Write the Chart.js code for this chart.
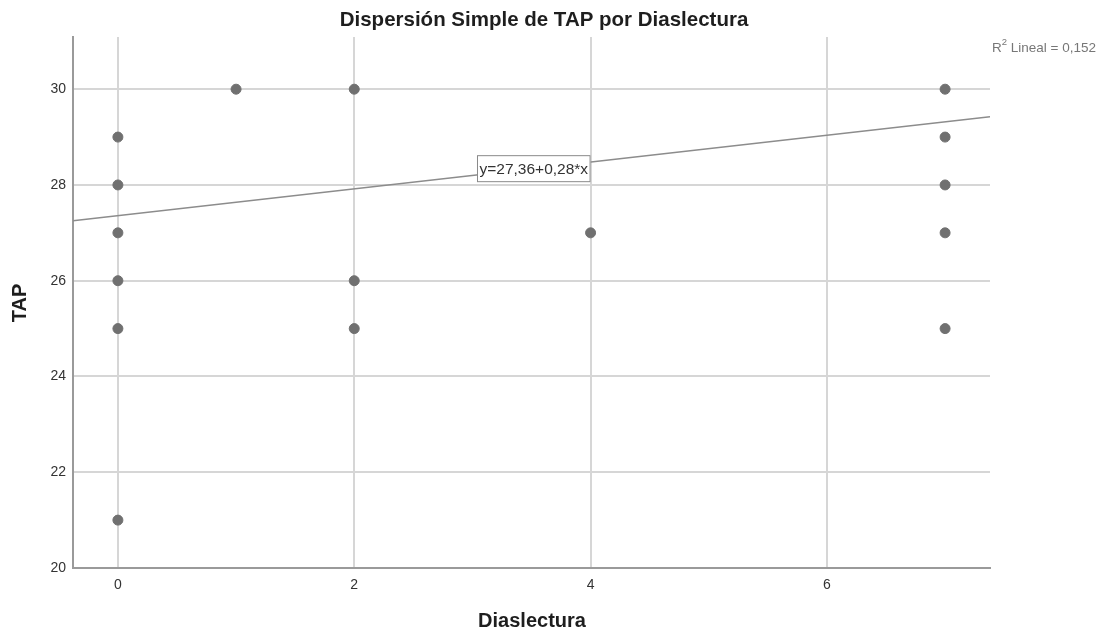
<!DOCTYPE html>
<html>
<head>
<meta charset="utf-8">
<script src="https://cdn.jsdelivr.net/npm/chart.js@4.4.1/dist/chart.umd.min.js"></script>
<style>
  html, body { margin: 0; padding: 0; background: #fff; }
  #wrap { width: 1104px; height: 631px; }
</style>
</head>
<body>
<div id="wrap"><canvas id="scatter"></canvas></div>
<script>
// data
var diaslectura = [0, 0, 0, 0, 0, 0, 1, 2, 2, 2, 4, 7, 7, 7, 7, 7];
var tap         = [29, 28, 27, 26, 25, 21, 30, 30, 26, 25, 27, 30, 29, 28, 27, 25];
var fitIntercept = [27.36]; // y=27,36+0,28*x
var fitSlope     = [0.28];
var fitLabel = 'y=27,36+0,28*x';
var xTicks = [0, 2, 4, 6];
var yTicks = [20, 22, 24, 26, 28, 30];

var xMin = -0.38, xMax = 7.38;
var yMin = 20, yMax = 31.09;

var points = diaslectura.map(function (x, i) { return { x: x, y: tap[i] }; });
var fitLine = [xMin, xMax].map(function (x) {
    return { x: x, y: fitIntercept[0] + fitSlope[0] * x };
});

var FONT = '"Liberation Sans", Arial, sans-serif';

// title, axis titles, r2 text and the equation box
var textPlugin = {
    id: 'spssText',
    afterDraw: function (chart) {
        var ctx = chart.ctx;
        var area = chart.chartArea;
        var xs = chart.scales.x, ys = chart.scales.y;
        ctx.save();
        ctx.fillStyle = '#1e1e1e';
        ctx.textAlign = 'center';
        ctx.textBaseline = 'middle';
        ctx.font = 'bold 20.5px ' + FONT;
        ctx.fillText('Dispersión Simple de TAP por Diaslectura', 544, 20);

        ctx.font = 'bold 20px ' + FONT;
        ctx.fillText('Diaslectura', 532, 621);

        ctx.save();
        ctx.translate(20, 303);
        ctx.rotate(-Math.PI / 2);
        ctx.fillText('TAP', 0, 0);
        ctx.restore();

        // R2 note top right
        ctx.fillStyle = '#777';
        ctx.textAlign = 'left';
        ctx.font = '13.5px ' + FONT;
        ctx.fillText('R', 992, 48);
        var rw = ctx.measureText('R').width;
        ctx.font = '9.5px ' + FONT;
        ctx.fillText('2', 992 + rw, 42);
        var sw = ctx.measureText('2').width;
        ctx.font = '13.5px ' + FONT;
        ctx.fillText(' Lineal = 0,152', 992 + rw + sw, 48);

        // equation box, right edge on x = 4
        ctx.font = '15.5px ' + FONT;
        var tw = ctx.measureText(fitLabel).width;
        var bx2 = xs.getPixelForValue(4);
        var bw = tw + 5;
        var bh = 27;
        var cy = ys.getPixelForValue(28.34);
        ctx.fillStyle = '#fff';
        ctx.fillRect(bx2 - bw, cy - bh / 2, bw, bh);
        ctx.strokeStyle = '#8a8a8a';
        ctx.lineWidth = 1;
        ctx.strokeRect(bx2 - bw + 0.5, cy - bh / 2 + 0.5, bw - 1, bh - 1);
        ctx.fillStyle = '#333';
        ctx.textAlign = 'center';
        ctx.fillText(fitLabel, bx2 - bw / 2, cy + 1);
        ctx.restore();
    }
};

var ctx = document.getElementById('scatter').getContext('2d');
var chart = new Chart(ctx, {
    type: 'scatter',
    data: {
        datasets: [{
            label: 'TAP',
            data: points,
            backgroundColor: '#707070',
            borderColor: '#707070',
            pointRadius: 5,
            pointHoverRadius: 5,
            order: 1
        }, {
            type: 'line',
            label: 'Lineal',
            data: fitLine,
            borderColor: '#8c8c8c',
            borderWidth: 1.5,
            pointRadius: 0,
            fill: false,
            order: 2
        }]
    },
    options: {
        responsive: true,
        maintainAspectRatio: false,
        animation: false,
        layout: { padding: { top: 37, right: 114, left: 0, bottom: 0 } },
        plugins: {
            legend: { display: false },
            tooltip: { enabled: false },
            title: { display: false }
        },
        scales: {
            x: {
                type: 'linear',
                min: xMin,
                max: xMax,
                afterBuildTicks: function (scale) {
                    scale.ticks = xTicks.map(function (v) { return { value: v }; });
                },
                afterFit: function (scale) { scale.height = 63; },
                grid: { color: '#d6d6d6', lineWidth: 2, drawTicks: false },
                border: { color: '#9a9a9a', width: 2 },
                ticks: {
                    color: '#333',
                    padding: 9,
                    font: { family: FONT, size: 14 },
                    maxRotation: 0
                }
            },
            y: {
                type: 'linear',
                min: yMin,
                max: yMax,
                afterBuildTicks: function (scale) {
                    scale.ticks = yTicks.map(function (v) { return { value: v }; });
                },
                afterFit: function (scale) { scale.width = 73; },
                grid: { color: '#d6d6d6', lineWidth: 2, drawTicks: false },
                border: { color: '#9a9a9a', width: 2 },
                ticks: {
                    color: '#333',
                    padding: 7,
                    font: { family: FONT, size: 14 }
                }
            }
        }
    },
    plugins: [textPlugin]
});
</script>
</body>
</html>
